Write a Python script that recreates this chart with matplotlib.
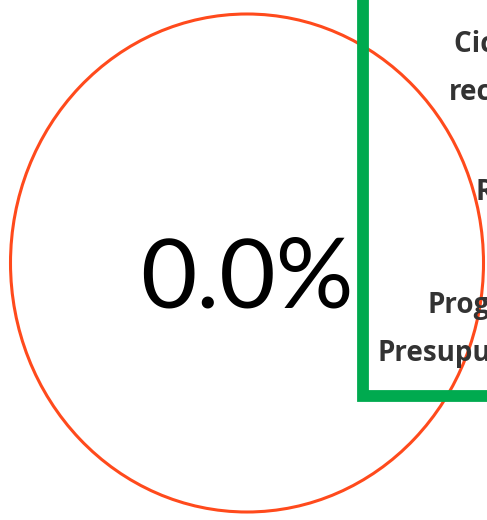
import numpy as np
import matplotlib
matplotlib.use('Agg')
import matplotlib.pyplot as plt
import matplotlib.patches as patches

# gauge value and the (cut off) side labels
avance = 0.0
etiquetas = ['Ciclo de', 'recaudación', 'Recaudado', 'Programación', 'Presupuestal']
etiqueta_x = [454, 449, 475, 427, 378]
etiqueta_y = [45, 92, 193, 305, 353]

fig = plt.figure(figsize=(4.87, 5.20), dpi=100)
ax = fig.add_axes([0, 0, 1, 1])
ax.set_xlim(0, 487)
ax.set_ylim(520, 0)
ax.axis('off')

# ring of the gauge
cx, cy = 247, 263
ring = patches.Ellipse((cx, cy), 473, 498, fill=False, ec='#ff4a1c', lw=2.2)
ax.add_patch(ring)

# progress arc (empty when avance is 0)
if avance > 0:
    arc = patches.Arc((cx, cy), 473, 498, theta1=90 - 360 * avance / 100, theta2=90,
                      ec='#00aa4f', lw=6)
    ax.add_patch(arc)

ax.text(cx, 280, '%.1f%%' % avance, fontsize=70, family='Lato',
        ha='center', va='center', color='black')

# green frame
frame = patches.Rectangle((362.5, -20), 200, 416, fill=False, ec='#00aa4f', lw=8.5)
ax.add_patch(frame)

for t, x, y in zip(etiquetas, etiqueta_x, etiqueta_y):
    ax.text(x, y, t, fontsize=20, family='Open Sans', weight='bold',
            ha='left', va='center', color='#333333')

fig.savefig('out.png', dpi=100)
